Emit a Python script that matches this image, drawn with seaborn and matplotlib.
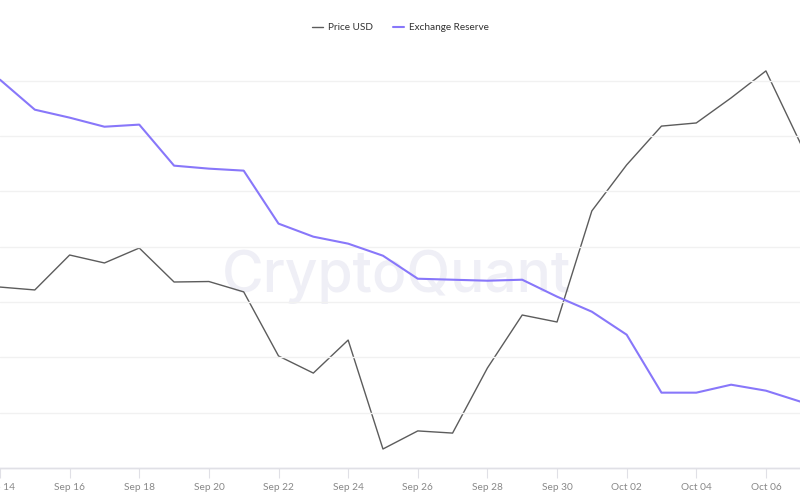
import matplotlib
matplotlib.use("Agg")
import matplotlib.pyplot as plt
import matplotlib.dates as mdates
import seaborn as sns
import pandas as pd
import numpy as np

dates = pd.date_range("2025-09-14", "2025-10-07", freq="D")
price_usd = [115720, 115600, 117050, 116720, 117340, 115930, 115950, 115520,
             112860, 112150, 113520, 109000, 109750, 109660, 112360, 114560,
             114270, 118880, 120790, 122400, 122530, 123570, 124690, 121660]
exchange_reserve = [2450100, 2447390, 2446670, 2445850, 2446040, 2442330, 2442060,
                    2441880, 2437090, 2435910, 2435280, 2434190, 2432110, 2432020,
                    2431930, 2432020, 2430490, 2429130, 2427050, 2421810, 2421810,
                    2422530, 2421990, 2420990]
reserve_grid = [2420000, 2425000, 2430000, 2435000, 2440000, 2445000, 2450000]

df = pd.DataFrame({"date": dates, "price": price_usd, "reserve": exchange_reserve})

sns.set_theme(style="white")
plt.rcParams["font.family"] = ["Lato", "DejaVu Sans"]

fig = plt.figure(figsize=(8, 5), dpi=100)
ax = fig.add_axes([0, 0.064, 1, 0.812])
ax2 = ax.twinx()

price_color = "#5c5c5c"
reserve_color = "#8877fa"

sns.lineplot(data=df, x="date", y="reserve", ax=ax, color=reserve_color, linewidth=1.5,
             label="Exchange Reserve", legend=False)
sns.lineplot(data=df, x="date", y="price", ax=ax2, color=price_color, linewidth=1.0,
             label="Price USD", legend=False)

ax.set_ylim(2415000, 2451700)
ax2.set_ylim(108211, 125060)
ax.set_xlim(dates[0] + pd.Timedelta(hours=2.0), dates[-1] - pd.Timedelta(hours=0.5))

ax.set_yticks(reserve_grid)
ax.yaxis.grid(True, color="#f1f1f1", linewidth=1)
ax.xaxis.grid(False)
ax.tick_params(axis="y", left=False, labelleft=False)
ax2.tick_params(axis="y", right=False, labelright=False)
ax2.grid(False)
ax.set_ylabel("")
ax2.set_ylabel("")
ax.set_xlabel("")
ax2.set_xlabel("")

ax.set_xticks(dates[::2])
ax.xaxis.set_major_formatter(mdates.DateFormatter("%b %d"))
ax.tick_params(axis="x", bottom=True, length=7, width=0.8, color="#e0e0e6",
               labelsize=7.3, labelcolor="#888888", pad=3.5)

for a in (ax, ax2):
    for s in ("top", "left", "right"):
        a.spines[s].set_visible(False)
    a.spines["bottom"].set_color("#e0e0e6")
    a.spines["bottom"].set_linewidth(1)

ax.set_zorder(ax2.get_zorder() + 1)
ax.patch.set_visible(False)
ax2.patch.set_visible(False)

fig.text(0.496, 0.416, "CryptoQuant", ha="center", va="baseline", fontsize=41,
         color="#efeff6", zorder=-5, fontweight="medium", family="Inter")

h1, l1 = ax2.get_legend_handles_labels()
h2, l2 = ax.get_legend_handles_labels()
fig.legend(h1 + h2, l1 + l2, loc="center", bbox_to_anchor=(0.501, 0.944), ncol=2,
           frameon=False, fontsize=7.2, handlelength=1.1, handletextpad=0.5,
           columnspacing=2.0, labelcolor="#333333")

fig.savefig("out.png", dpi=100)
